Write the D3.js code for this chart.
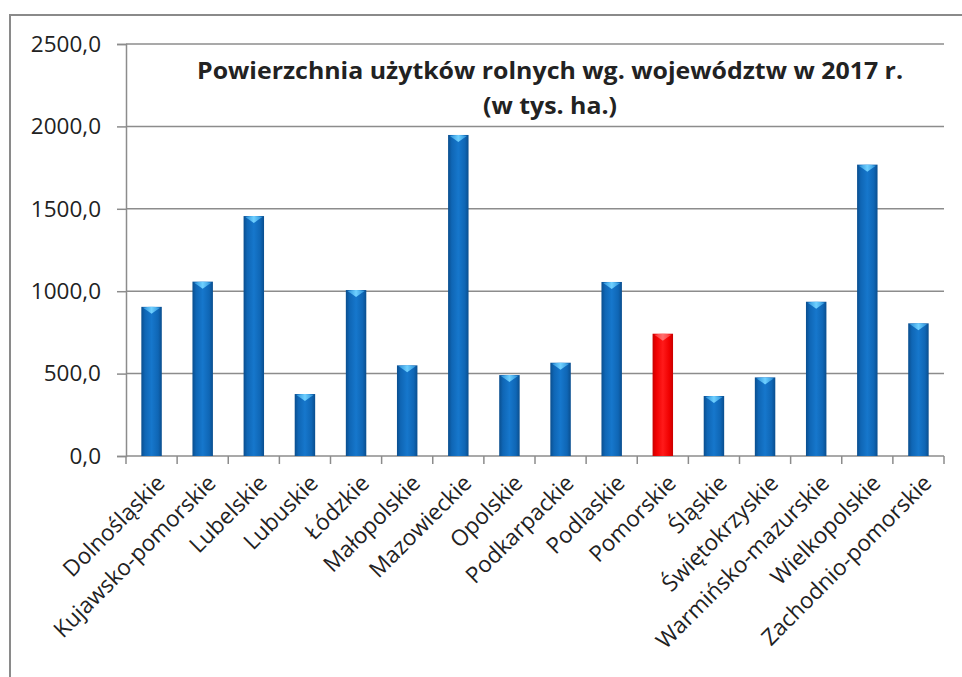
<!DOCTYPE html>
<html><head><meta charset="utf-8">
<script src="https://cdn.jsdelivr.net/npm/d3@7"></script>
<style>body{margin:0;background:#fff;}svg{display:block;}</style>
</head><body>
<svg id="c" width="962" height="677"></svg>
<script>
const categories = ["Dolnośląskie","Kujawsko-pomorskie","Lubelskie","Lubuskie","Łódzkie","Małopolskie","Mazowieckie","Opolskie","Podkarpackie","Podlaskie","Pomorskie","Śląskie","Świętokrzyskie","Warmińsko-mazurskie","Wielkopolskie","Zachodnio-pomorskie"];
const values = [905, 1058, 1456, 376, 1007, 550, 1948, 491, 566, 1056, 742, 364, 477, 936, 1768, 805];
const highlighted = ["Pomorskie"];
const yTicks = [0, 500, 1000, 1500, 2000, 2500];
const titleLines = ["Powierzchnia użytków rolnych wg. województw w 2017 r.", "(w tys. ha.)"];

const svg = d3.select("#c");
const font = "'Open Sans', 'Liberation Sans', sans-serif";
const L = 126, R = 944, T = 44, B = 456;

const defs = svg.append("defs");
function grad(id, stops) {
  const g = defs.append("linearGradient").attr("id", id).attr("x1", "0").attr("x2", "1").attr("y1", "0").attr("y2", "0");
  stops.forEach(s => g.append("stop").attr("offset", s[0]).attr("stop-color", s[1]));
}
grad("gBlue", [[0, "#0a4e8e"], [0.18, "#0f66b5"], [0.5, "#1677cc"], [0.82, "#0f66b5"], [1, "#0a4e8e"]]);
grad("gRed", [[0, "#c80000"], [0.18, "#f00000"], [0.5, "#ff1a1a"], [0.82, "#f00000"], [1, "#c80000"]]);
grad("gCapB", [[0, "#2a8fd8"], [0.5, "#6fd0ff"], [1, "#2a8fd8"]]);
grad("gCapR", [[0, "#ff3030"], [0.5, "#ff7070"], [1, "#ff3030"]]);

// outer frame
svg.append("rect").attr("x", 10).attr("y", 15).attr("width", 980).attr("height", 700)
  .attr("fill", "none").attr("stroke", "#8a8a8a").attr("stroke-width", 2);

const x = d3.scaleBand().domain(categories).range([L, R]).padding(0);
const y = d3.scaleLinear().domain([0, 2500]).range([B, T]);

// gridlines
svg.append("g").selectAll("line").data(yTicks.filter(d => d > 0)).join("line")
  .attr("x1", L).attr("x2", R).attr("y1", d => y(d)).attr("y2", d => y(d))
  .attr("stroke", "#8c8c8c").attr("stroke-width", 1.5);

// y axis
const yAxis = svg.append("g").attr("transform", `translate(${L},0)`)
  .call(d3.axisLeft(y).tickValues(yTicks).tickSize(9).tickPadding(16)
    .tickFormat(d => d3.format(".1f")(d).replace(".", ",")));
yAxis.select(".domain").attr("stroke", "#8c8c8c").attr("stroke-width", 1.5);
yAxis.selectAll(".tick line").attr("stroke", "#8c8c8c").attr("stroke-width", 1.5);
yAxis.selectAll("text").attr("font-family", font).attr("font-size", 22.5).attr("fill", "#222");

// x axis with ticks at category boundaries
const xg = svg.append("g");
xg.append("line").attr("x1", L).attr("x2", R).attr("y1", B).attr("y2", B)
  .attr("stroke", "#8c8c8c").attr("stroke-width", 1.5);
const bounds = categories.map(c => x(c)).concat([R]);
xg.selectAll("line.t").data(bounds).join("line").attr("class", "t")
  .attr("x1", d => d).attr("x2", d => d).attr("y1", B).attr("y2", B + 8)
  .attr("stroke", "#8c8c8c").attr("stroke-width", 1.5);

xg.selectAll("text").data(categories).join("text")
  .attr("transform", d => `translate(${x(d) + x.bandwidth() / 2 + 9},${B + 23}) rotate(-45)`)
  .attr("text-anchor", "end").attr("dy", "0.35em")
  .attr("font-family", font).attr("font-size", 22.5).attr("fill", "#222")
  .text(d => d);

// bars
const bw = x.bandwidth() * 0.4;
const bars = svg.append("g").selectAll("g").data(categories).join("g");
bars.append("rect")
  .attr("x", d => x(d) + x.bandwidth() / 2 - bw / 2)
  .attr("y", (d, i) => y(values[i]))
  .attr("width", bw)
  .attr("height", (d, i) => B - y(values[i]))
  .attr("fill", d => highlighted.includes(d) ? "url(#gRed)" : "url(#gBlue)");
bars.append("path")
  .attr("d", (d, i) => {
    const cx = x(d) + x.bandwidth() / 2, t = y(values[i]);
    return `M${cx - bw * 0.42},${t + 1} Q${cx},${t - 1} ${cx + bw * 0.42},${t + 1} Q${cx + bw * 0.2},${t + 4} ${cx},${t + 7} Q${cx - bw * 0.2},${t + 4} ${cx - bw * 0.42},${t + 1} Z`;
  })
  .attr("fill", d => highlighted.includes(d) ? "url(#gCapR)" : "url(#gCapB)");

// title
const tg = svg.append("g");
tg.append("text").attr("x", 550).attr("y", 79).attr("text-anchor", "middle")
  .attr("font-family", font).attr("font-weight", "bold").attr("font-size", 23).attr("fill", "#222")
  .attr("textLength", 706).attr("lengthAdjust", "spacingAndGlyphs").text(titleLines[0]);
tg.append("text").attr("x", 550).attr("y", 114).attr("text-anchor", "middle")
  .attr("font-family", font).attr("font-weight", "bold").attr("font-size", 23).attr("fill", "#222")
  .attr("textLength", 134).attr("lengthAdjust", "spacingAndGlyphs").text(titleLines[1]);
</script>
</body></html>
